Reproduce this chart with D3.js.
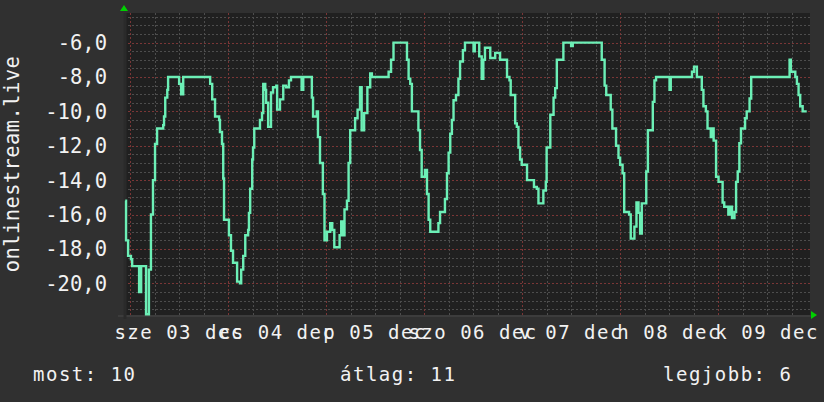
<!DOCTYPE html>
<html>
<head>
<meta charset="utf-8">
<script src="https://cdn.jsdelivr.net/npm/d3@7"></script>
<style>
  html, body { margin: 0; padding: 0; background: #303030; }
  svg { display: block; }
  text { font-family: "DejaVu Sans Mono", monospace; fill: #f2f2f2; }
</style>
</head>
<body>
<svg width="824" height="402"></svg>
<script>
// hours since 2025-12-03 00:00
const hours = [
  -1.2, -1.0, -0.5, 0.2, 0.5, 2.2, 2.7, 3.9, 4.6, 5.1, 5.6, 6.1, 6.6, 8.1, 8.3, 8.6, 9.1, 9.3,
  12.0, 12.5, 13.0, 19.6, 20.1, 20.8, 21.8, 22.0, 22.5, 22.8, 23.0, 24.2, 24.7, 25.2, 26.2, 26.9,
  27.2, 27.7, 28.2, 28.9, 29.1, 29.4, 29.9, 30.1, 30.4, 31.8, 32.3, 32.6, 33.1, 33.3, 33.8, 34.5,
  35.0, 35.8, 36.0, 36.7, 37.5, 38.2, 38.9, 39.4, 42.0, 42.4, 44.5, 44.8, 45.7, 46.0, 46.5, 47.2,
  47.6, 48.2, 49.0, 49.5, 50.0, 51.3, 51.7, 52.1, 52.5, 53.1, 53.5, 53.9, 55.1, 55.7, 56.3, 56.7,
  57.3, 58.1, 58.8, 59.2, 63.3, 63.9, 64.5, 67.8, 68.2, 68.6, 69.0, 70.6, 71.0, 71.4, 72.2, 72.7,
  73.1, 73.5, 75.5, 75.9, 77.1, 77.6, 78.0, 78.4, 78.8, 79.2, 79.8, 80.4, 80.8, 81.5, 82.0, 84.1,
  84.4, 85.5, 86.1, 86.5, 86.9, 88.2, 89.4, 90.6, 92.3, 92.9, 93.2, 94.3, 94.7, 95.1, 95.5, 95.9,
  97.2, 98.9, 99.6, 100.0, 101.2, 101.8, 102.0, 102.9, 103.7, 104.1, 104.5, 106.1, 108.0, 108.4,
  115.5, 116.2, 116.6, 117.7, 118.1, 119.0, 119.6, 120.0, 120.6, 121.0, 122.2, 122.6, 123.5, 124.0,
  124.5, 124.9, 125.3, 126.4, 126.8, 128.0, 128.4, 128.8, 132.1, 132.4, 137.6, 138.1, 138.8, 140.0,
  140.4, 141.0, 141.4, 142.2, 142.6, 142.9, 143.5, 144.1, 145.1, 145.5, 146.5, 146.9, 147.4, 148.0,
  148.4, 148.8, 149.2, 149.6, 150.6, 151.0, 151.7, 152.1, 161.5, 161.8, 162.9, 163.3, 163.7, 164.1,
  164.7, 165.7
];
const values = [
  -15.2, -17.5, -18.4, -18.6, -19.0, -20.5, -19.0, -21.8, -19.2, -16.0, -14.0, -11.9, -11.0, -10.8, -10.3, -9.2, -8.75, -8.0,
  -8.4, -9.0, -8.0, -8.4, -9.3, -10.3, -10.5, -11.2, -11.9, -13.9, -16.3, -17.2, -18.1, -18.8, -19.9, -20.0,
  -19.2, -18.4, -17.2, -16.9, -15.9, -14.5, -12.8, -12.1, -11.0, -10.5, -10.1, -8.4, -8.75, -9.5, -10.9, -8.9,
  -8.6, -8.5, -9.9, -9.3, -8.5, -8.6, -8.2, -8.0, -8.75, -8.0, -9.2, -10.3, -10.0, -11.5, -13.0, -14.8,
  -17.5, -17.0, -16.5, -16.9, -17.9, -17.2, -16.4, -17.2, -15.7, -15.2, -13.0, -11.1, -10.4, -9.9, -8.6, -11.1,
  -10.1, -8.6, -7.8, -8.0, -7.7, -7.0, -6.0, -7.0, -8.1, -8.4, -10.0, -11.1, -12.25, -13.8, -13.4, -14.8,
  -16.3, -17.0, -16.5, -15.85, -15.1, -13.6, -12.4, -11.3, -10.5, -9.35, -9.05, -8.1, -7.1, -6.45, -6.0, -6.5,
  -6.0, -6.8, -8.1, -7.0, -6.3, -6.9, -6.6, -7.0, -8.0, -8.2, -9.05, -10.7, -10.9, -12.1, -12.8, -13.1,
  -14.0, -14.4, -14.5, -15.35, -14.6, -14.1, -12.1, -10.2, -9.2, -8.65, -7.0, -6.0, -6.2, -6.0,
  -7.0, -8.5, -9.05, -9.9, -11.0, -12.0, -12.7, -13.1, -13.6, -15.85, -16.0, -17.4, -16.7, -15.3,
  -15.9, -17.1, -15.35, -13.5, -11.1, -9.45, -8.2, -8.0, -8.75, -8.0, -7.7, -7.4, -8.0, -8.75,
  -9.7, -10.0, -11.0, -11.5, -11.0, -11.7, -13.8, -14.1, -15.3, -15.55, -16.0, -15.55, -16.2, -15.85,
  -14.1, -13.5, -11.85, -11.0, -10.4, -10.0, -9.25, -8.0, -7.0, -7.7, -8.0, -8.4, -9.05, -9.7,
  -10.0, -10.0
];
const yTicks = [-20, -18, -16, -14, -12, -10, -8, -6];
const dayLabels = ["sze 03 dec", "cs 04 dec", "p 05 dec", "szo 06 dec", "v 07 dec", "h 08 dec", "k 09 dec"];
const legendNames = ["most", "átlag", "legjobb"];
const legendValues = [10, 11, 6];
const yTitle = "onlinestream.live";

const base = Date.UTC(2025, 11, 3);
const toDate = h => new Date(base + h * 3600e3);
const data = hours.map((h, i) => ({ t: toDate(h), v: values[i] }));

const svg = d3.select("svg");
const pLeft = 124, pRight = 810, pTop = 13, pBottom = 315;

const x = d3.scaleUtc().domain([toDate(-1.5), toDate(166.5)]).range([pLeft, pRight]);
const y = d3.scaleLinear().domain([-21.84, -4.28]).range([pBottom, pTop]);

svg.append("rect")
  .attr("x", pLeft).attr("y", pTop)
  .attr("width", pRight - pLeft).attr("height", pBottom - pTop)
  .attr("fill", "#202020");

// grid
const g = svg.append("g");
const gridX = d3.utcHour.every(6).range(x.domain()[0], x.domain()[1]);
const minorY = d3.range(-21.5, -4.28, 0.5);

g.selectAll(".vminor").data(gridX.filter(d => d.getUTCHours() !== 0)).enter().append("line")
  .attr("x1", d => Math.round(x(d)) + 0.5).attr("x2", d => Math.round(x(d)) + 0.5)
  .attr("y1", pTop).attr("y2", pBottom)
  .attr("stroke", "#4d4d4d").attr("stroke-dasharray", "2,2");
g.selectAll(".hminor").data(minorY.filter(v => v % 2 !== 0)).enter().append("line")
  .attr("y1", d => Math.round(y(d)) + 0.5).attr("y2", d => Math.round(y(d)) + 0.5)
  .attr("x1", pLeft).attr("x2", pRight)
  .attr("stroke", "#4d4d4d").attr("stroke-dasharray", "2,2");
g.selectAll(".vmajor").data(gridX.filter(d => d.getUTCHours() === 0)).enter().append("line")
  .attr("x1", d => Math.round(x(d)) + 0.5).attr("x2", d => Math.round(x(d)) + 0.5)
  .attr("y1", pTop).attr("y2", pBottom)
  .attr("stroke", "#7a3636").attr("stroke-dasharray", "2,2");
g.selectAll(".hmajor").data(yTicks).enter().append("line")
  .attr("y1", d => Math.round(y(d)) + 0.5).attr("y2", d => Math.round(y(d)) + 0.5)
  .attr("x1", pLeft).attr("x2", pRight)
  .attr("stroke", "#7a3636").attr("stroke-dasharray", "2,2");

// axes lines
svg.append("line").attr("x1", pLeft - 6).attr("x2", pRight + 2).attr("y1", pBottom + 1).attr("y2", pBottom + 1)
  .attr("stroke", "#3c3c3c").attr("stroke-width", 2);
svg.append("line").attr("x1", pLeft + 1).attr("x2", pLeft + 1).attr("y1", pTop).attr("y2", pBottom + 4)
  .attr("stroke", "#2a2a2a").attr("stroke-width", 3);

// arrows
svg.append("path").attr("d", `M${pLeft - 4},${pTop - 2} L${pLeft + 4},${pTop - 2} L${pLeft},${pTop - 8} Z`).attr("fill", "#00d000");
svg.append("path").attr("d", `M${pRight + 1},${pBottom - 4} L${pRight + 1},${pBottom + 4} L${pRight + 7},${pBottom} Z`).attr("fill", "#00d000");

// line
const line = d3.line().x(d => x(d.t)).y(d => y(d.v)).curve(d3.curveStepAfter);
svg.append("path").datum(data)
  .attr("d", line)
  .attr("fill", "none")
  .attr("stroke", "#6cefb6")
  .attr("stroke-width", 2.4);

// y labels
svg.selectAll(".ylab").data(yTicks).enter().append("text")
  .attr("x", 107).attr("y", d => y(d))
  .attr("dy", "0.36em")
  .attr("text-anchor", "end")
  .attr("font-size", 20.5)
  .text(d => d3.format(".1f")(d).replace("−", "-").replace(".", ","));

// x labels at noon
svg.selectAll(".xlab").data(dayLabels).enter().append("text")
  .attr("x", (d, i) => x(toDate(i * 24 + 12)))
  .attr("y", 339)
  .attr("text-anchor", "middle")
  .attr("font-size", 19)
  .attr("letter-spacing", 1.5)
  .text(d => d);

// y title
svg.append("text")
  .attr("transform", "translate(19,164) rotate(-90)")
  .attr("text-anchor", "middle")
  .attr("font-size", 20.5)
  .attr("letter-spacing", 0.4)
  .text(yTitle);

// legend
const legendX = [33, 340, 663];
svg.selectAll(".leg").data(legendNames).enter().append("text")
  .attr("x", (d, i) => legendX[i])
  .attr("y", 381)
  .attr("font-size", 19)
  .attr("letter-spacing", 1.5)
  .text((d, i) => `${d}: ${legendValues[i]}`);
</script>
</body>
</html>
